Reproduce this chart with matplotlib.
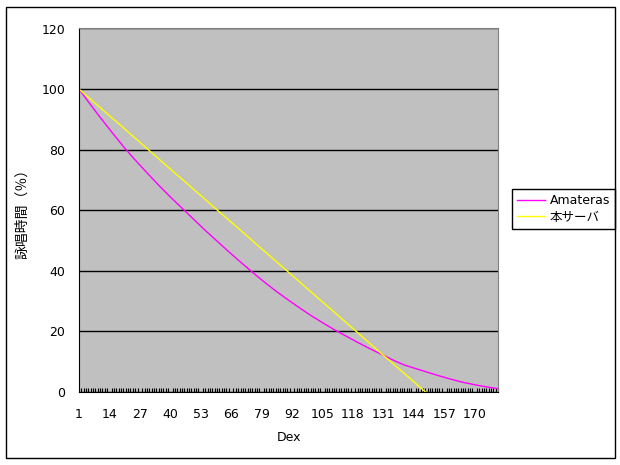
import matplotlib
matplotlib.use('Agg')
import matplotlib.pyplot as plt
from matplotlib.patches import Rectangle

plt.rcParams['font.family'] = ['DejaVu Sans', 'Noto Sans CJK JP']

# Amateras curve
amateras_dex = [1, 5, 10, 15, 20, 25, 30, 35, 40, 45, 50, 55, 60, 65, 70, 75, 80, 85, 90,
                95, 100, 105, 110, 115, 120, 125, 130, 135, 140, 145, 150, 155, 160, 165,
                170, 175, 180]
amateras_val = [100, 95.8, 90.7, 85.8, 81.0, 76.6, 72.4, 68.3, 64.4, 60.7, 57.0, 53.3, 49.8,
                46.3, 42.9, 39.6, 36.4, 33.4, 30.6, 27.9, 25.3, 22.9, 20.6, 18.5, 16.4, 14.4,
                12.5, 10.6, 8.9, 7.7, 6.5, 5.3, 4.2, 3.2, 2.4, 1.7, 1.1]

# this server, ends at dex 149
server_dex = [1, 10, 20, 30, 40, 50, 60, 70, 80, 90, 100, 110, 120, 130, 140, 149]
server_val = [100, 93.9, 87.2, 80.4, 73.6, 66.9, 60.1, 53.4, 46.6, 39.9, 33.1, 26.4, 19.6,
              12.8, 6.1, 0]

n_dex = 180
xtick_labels = list(range(1, 171, 13))

fig = plt.figure(figsize=(6.2, 4.65), dpi=100)
ax = fig.add_axes([79/620, 1-392/465, (498-79)/620, (392-28.5)/465])
ax.set_facecolor('#C0C0C0')

ax.plot(amateras_dex, amateras_val, color='#FF00FF', lw=1.0, label='Amateras')
ax.plot(server_dex, server_val, color='#FFFF00', lw=1.0, label='本サーバ')

ax.set_xlim(1, n_dex)
ax.set_ylim(0, 120)
ax.set_yticks(range(0, 121, 20))
ax.yaxis.grid(True, color='black', lw=1.0)
ax.set_axisbelow(True)

ax.set_xticks(xtick_labels)
ax.set_xticks(range(1, n_dex + 1), minor=True)
ax.tick_params(axis='x', which='major', length=0, pad=11.5, labelsize=9)
ax.tick_params(axis='x', which='minor', direction='in', length=3, width=0.8)
ax.tick_params(axis='y', which='major', length=0, pad=10, labelsize=9)

for s in ['top', 'right']:
    ax.spines[s].set_color('#808080')
for s in ['left', 'bottom']:
    ax.spines[s].set_color('black')

ax.set_xlabel('Dex', fontsize=9, labelpad=7)
ax.set_ylabel('詠唱時間（％）', fontsize=10, labelpad=9, family=['Noto Sans CJK JP'])

leg = ax.legend(loc='upper left', bbox_to_anchor=(512/620, 1-189/465),
                bbox_transform=fig.transFigure, borderaxespad=0, fancybox=False,
                edgecolor='black', fontsize=9, handlelength=2.2, framealpha=1,
                borderpad=0.4, labelspacing=0.3, handletextpad=0.4)
leg.get_frame().set_linewidth(1.0)

# outer chart border
fig.patches.append(Rectangle((6/620, 7/465), 609/620, 451/465, transform=fig.transFigure,
                             fill=False, edgecolor='black', lw=1.0))

fig.savefig('out.png', dpi=100)
